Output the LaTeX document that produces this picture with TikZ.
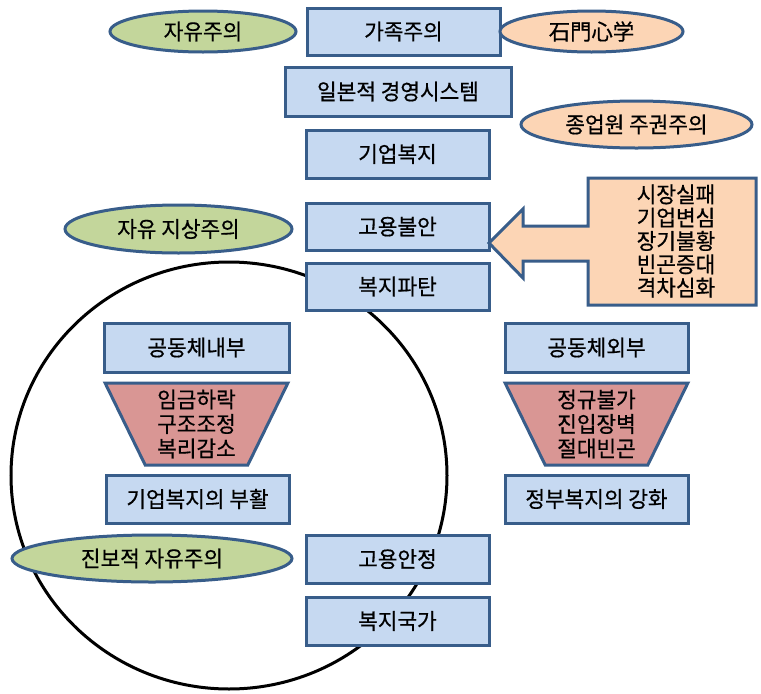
\documentclass[tikz,border=0pt]{standalone}
\usepackage{fontspec}
\setmainfont{Noto Sans CJK KR}[FakeStretch=0.97,FakeBold=0.6]
\usetikzlibrary{shapes.geometric}
\definecolor{bord}{RGB}{56,93,138}
\definecolor{bluef}{RGB}{198,217,241}
\definecolor{greenf}{RGB}{195,214,155}
\definecolor{orangef}{RGB}{252,213,181}
\definecolor{redf}{RGB}{217,150,148}
\begin{document}
\begin{tikzpicture}[x=1pt,y=-1pt,
  base/.style={draw=bord, line width=3pt, inner sep=0pt, align=center,
    font=\fontsize{22}{24.5}\selectfont, text=black},
  bluebox/.style={base, rectangle, fill=bluef, minimum height=48pt},
  greenell/.style={base, ellipse, fill=greenf},
  orangeell/.style={base, ellipse, fill=orangef},
  trapbox/.style={base, trapezium, shape border rotate=180, trapezium angle=66,
    trapezium stretches=true, fill=redf, minimum width=183pt, minimum height=82pt},
  arrowshape/.style={draw=bord, line width=3pt, fill=orangef, line join=miter},
  bigcircle/.style={draw=black, line width=3pt}
]
\useasboundingbox (0,0) rectangle (761,694);
\fill[white] (0,0) rectangle (761,694);

% big circle
\draw[bigcircle] (229,475.5) ellipse [x radius=218, y radius=213.5];

% top row
\node[greenell, minimum width=186pt, minimum height=41pt] (lib) at (203,31.5) {자유주의};
\node[bluebox, minimum width=193pt, minimum height=47pt] (fam) at (403.5,31.5) {가족주의};
\node[orangeell, minimum width=183pt, minimum height=41pt] (seki) at (591.5,31.5) {石門心学};

\node[bluebox, minimum width=226pt, minimum height=49pt] (jap) at (398,91.5) {일본적 경영시스템};
\node[orangeell, minimum width=231pt, minimum height=47pt] (emp) at (636.5,124.5) {종업원 주권주의};
\node[bluebox, minimum width=183pt] (kw) at (397.5,154) {기업복지};

\node[greenell, minimum width=227pt, minimum height=48pt] (libt) at (178.5,229) {자유 지상주의};
\node[bluebox, minimum width=183pt, minimum height=47pt] (anx) at (397.5,226.5) {고용불안};
\node[bluebox, minimum width=183pt, minimum height=47pt] (col) at (397.5,286.5) {복지파탄};

% arrow callout
\draw[arrowshape] (588,178) -- (756,178) -- (756,305) -- (588,305) -- (588,261)
  -- (523,261) -- (523,278) -- (489,243) -- (523,209) -- (523,226) -- (588,226) -- cycle;
\node[align=center, inner sep=0pt, font=\fontsize{22}{23.3}\selectfont] (causes) at (676,241)
  {시장실패\\기업변심\\장기불황\\빈곤증대\\격차심화};

% inside / outside
\node[bluebox, minimum width=185pt, minimum height=49pt] (inner) at (196.5,347.5) {공동체내부};
\node[trapbox] (tl) at (196.5,424) {임금하락\\구조조정\\복리감소};
\node[bluebox, minimum width=183pt] (rev) at (197.5,499) {기업복지의 부활};

\node[bluebox, minimum width=183pt, minimum height=49pt] (outer) at (596.5,347.5) {공동체외부};
\node[trapbox] (tr) at (596.5,424) {정규불가\\진입장벽\\절대빈곤};
\node[bluebox, minimum width=183pt] (gov) at (596.5,499) {정부복지의 강화};

% bottom
\node[greenell, minimum width=280pt, minimum height=47pt] (prog) at (152,558.5) {진보적 자유주의};
\node[bluebox, minimum width=183pt] (stab) at (397.5,559) {고용안정};
\node[bluebox, minimum width=183pt] (wel) at (397.5,621) {복지국가};
\end{tikzpicture}
\end{document}
